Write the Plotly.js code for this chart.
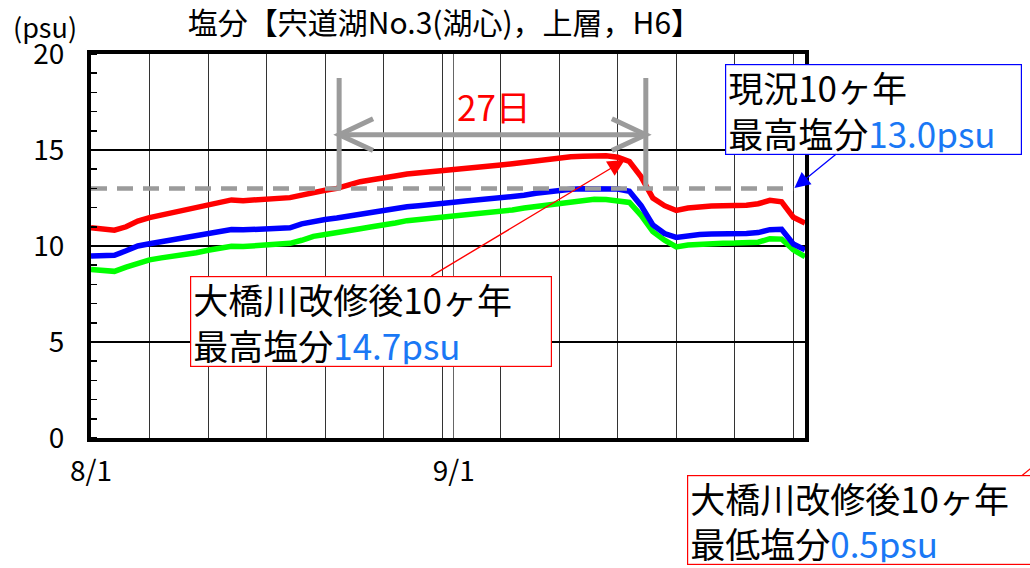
<!DOCTYPE html>
<html>
<head>
<meta charset="utf-8">
<script src="https://cdn.plot.ly/plotly-3.0.1.min.js"></script>
<style>html,body{margin:0;padding:0;background:#fff;}#chart{width:1030px;height:568px;}</style>
</head>
<body>
<div id="chart"></div>
<script>
// Days counted from 8/1 (0 = 8/1, 31 = 9/1)
const days = [0,1,2,3,4,5,6,7,8,9,10,11,12,13,14,15,16,17,18,19,20,21,22,23,24,25,26,27,28,29,30,31,32,33,34,35,36,37,38,39,40,41,42,43,44,45,46,47,48,49,50,51,52,53,54,55,56,57,58,59,60,61];
const tickDays = [0, 31];
const tickLabels = ['8/1', '9/1'];

// 大橋川改修後 (red)
const redSalinity = [10.95,10.92,10.82,11.0,11.3,11.48,11.62,11.73,11.86,12.0,12.15,12.3,12.4,12.36,12.4,12.45,12.48,12.52,12.65,12.8,12.9,13.0,13.2,13.35,13.45,13.52,13.65,13.75,13.8,13.85,13.92,13.97,14.05,14.1,14.15,14.22,14.28,14.35,14.45,14.55,14.62,14.65,14.68,14.7,14.7,14.62,14.4,13.6,12.5,12.1,11.85,11.98,12.05,12.08,12.1,12.1,12.12,12.2,12.38,12.3,11.5,11.2];
// 現況 (blue)
const blueSalinity = [9.48,9.5,9.52,9.75,10.0,10.12,10.22,10.32,10.42,10.52,10.62,10.78,10.86,10.84,10.86,10.9,10.93,10.95,11.15,11.3,11.38,11.46,11.56,11.68,11.76,11.84,11.94,12.04,12.1,12.14,12.2,12.28,12.34,12.4,12.44,12.5,12.55,12.64,12.75,12.84,12.9,12.95,12.98,13.0,13.0,12.97,12.85,12.1,11.1,10.65,10.45,10.55,10.6,10.62,10.62,10.63,10.65,10.7,10.85,10.87,10.1,9.8];
// green
const greenSalinity = [8.78,8.76,8.68,8.9,9.12,9.28,9.38,9.46,9.55,9.65,9.78,9.92,9.99,9.97,10.02,10.08,10.12,10.14,10.3,10.5,10.6,10.68,10.78,10.9,11.0,11.08,11.2,11.32,11.38,11.42,11.48,11.55,11.62,11.68,11.74,11.8,11.88,11.98,12.06,12.14,12.22,12.3,12.38,12.43,12.42,12.38,12.27,11.6,10.75,10.3,9.95,10.05,10.1,10.12,10.14,10.15,10.17,10.2,10.38,10.36,9.8,9.44];

// 現況10ヶ年最高塩分 reference level
const refLevelDays = [0, 60];
const refLevel = [13.0, 13.0];

// 27日 bracket
const bracketDays = [21.2, 47.4];
const bracketTop = 18.75;
const bracketArrowLevel = 15.8;

const FONT = "'Noto Sans CJK JP', 'Noto Sans CJK SC', sans-serif";
const GRAY = '#9b9b9b';
const NUMBLUE = '#1a78f5';

const traces = [
  {x: days, y: greenSalinity, mode: 'lines', line: {color: '#00ff00', width: 5.5}, hoverinfo: 'skip'},
  {x: days, y: blueSalinity, mode: 'lines', line: {color: '#0000ff', width: 5.5}, hoverinfo: 'skip'},
  {x: days, y: redSalinity, mode: 'lines', line: {color: '#ff0000', width: 5.5}, hoverinfo: 'skip'},
  {x: refLevelDays, y: refLevel, mode: 'lines', line: {color: GRAY, width: 4.5, dash: '16px,10px'}, hoverinfo: 'skip'}
];

const bx0 = bracketDays[0], bx1 = bracketDays[1];
const armX = 2.9, armY = 0.83;
const shapes = [
  {type: 'line', xref: 'x', yref: 'y', x0: bx0, x1: bx0, y0: refLevel[0], y1: bracketTop, line: {color: GRAY, width: 5}},
  {type: 'line', xref: 'x', yref: 'y', x0: bx1, x1: bx1, y0: refLevel[0], y1: bracketTop, line: {color: GRAY, width: 5}},
  {type: 'line', xref: 'x', yref: 'y', x0: bx0, x1: bx1, y0: bracketArrowLevel, y1: bracketArrowLevel, line: {color: GRAY, width: 5}},
  {type: 'path', xref: 'x', yref: 'y', path: `M${bx0+armX},${bracketArrowLevel+armY} L${bx0},${bracketArrowLevel} L${bx0+armX},${bracketArrowLevel-armY}`, line: {color: GRAY, width: 5}},
  {type: 'path', xref: 'x', yref: 'y', path: `M${bx1-armX},${bracketArrowLevel+armY} L${bx1},${bracketArrowLevel} L${bx1-armX},${bracketArrowLevel-armY}`, line: {color: GRAY, width: 5}},
  // small leader line of the lower-right box
  {type: 'line', xref: 'paper', yref: 'paper', x0: 1.2997, y0: -0.1042, x1: 1.3305, y1: -0.0573, line: {color: '#ff0000', width: 1.2}}
];

const boxFont = {family: FONT, size: 35, color: '#000'};
const annotations = [
  {xref: 'paper', yref: 'paper', x: -0.064, y: 1.072, xanchor: 'center', yanchor: 'middle', text: '(psu)', showarrow: false, font: {family: FONT, size: 27, color: '#000'}},
  {xref: 'x', yref: 'y', x: (bx0 + bx1) / 2 + 0.1, y: 17.3, text: '27日', showarrow: false, font: {family: FONT, size: 35, color: '#ff0000'}},
  // blue box
  {xref: 'paper', yref: 'paper', x: 0.888, y: 0.974, xanchor: 'left', yanchor: 'top', align: 'left', valign: 'middle', width: 291, height: 85,
   text: '現況10ヶ年<br>最高塩分<span style="color:' + NUMBLUE + '">13.0psu</span>', showarrow: false,
   bordercolor: '#0000ff', borderwidth: 1.2, borderpad: 2, bgcolor: '#ffffff', font: boxFont},
  {xref: 'x', yref: 'y', x: refLevelDays[1] + 0.1, y: refLevel[1] + 0.02, ax: 43, ay: -35, text: ' ', font: {size: 1},
   showarrow: true, arrowhead: 2, arrowsize: 2.4, arrowwidth: 1.3, arrowcolor: '#0000ff', standoff: 0},
  // red box (max)
  {xref: 'paper', yref: 'paper', x: 0.1387, y: 0.4219, xanchor: 'left', yanchor: 'top', align: 'left', valign: 'middle', width: 356, height: 85,
   text: '大橋川改修後10ヶ年<br>最高塩分<span style="color:' + NUMBLUE + '">14.7psu</span>', showarrow: false,
   bordercolor: '#ff0000', borderwidth: 1.2, borderpad: 2, bgcolor: '#ffffff', font: boxFont},
  {xref: 'x', yref: 'y', x: 45.6, y: 14.48, ax: -195, ay: 117, text: ' ', font: {size: 1},
   showarrow: true, arrowhead: 2, arrowsize: 2.4, arrowwidth: 1.4, arrowcolor: '#ff0000', standoff: 0},
  // red box (min), partly outside the picture
  {xref: 'paper', yref: 'paper', x: 0.8347, y: -0.096, xanchor: 'left', yanchor: 'top', align: 'left', valign: 'middle', width: 356, height: 84,
   text: '大橋川改修後10ヶ年<br>最低塩分<span style="color:' + NUMBLUE + '">0.5psu</span>', showarrow: false,
   bordercolor: '#ff0000', borderwidth: 1.2, borderpad: 2, bgcolor: '#ffffff', font: boxFont}
];

const layout = {
  width: 1030, height: 568,
  margin: {l: 91, r: 225, t: 54, b: 130, pad: 0},
  paper_bgcolor: '#ffffff', plot_bgcolor: '#ffffff',
  showlegend: false,
  font: {family: FONT, color: '#000'},
  title: {text: '塩分【宍道湖No.3(湖心)，上層，H6】', font: {family: FONT, size: 30, color: '#000'},
          xref: 'paper', x: 0.495, xanchor: 'center', yref: 'container', y: 0.958, yanchor: 'middle'},
  xaxis: {
    range: [0, 61], tickmode: 'array', tickvals: tickDays, ticktext: tickLabels,
    showgrid: true, gridcolor: '#666', gridwidth: 1.2, zeroline: false,
    showline: true, linecolor: '#000', linewidth: 4, mirror: true,
    ticks: '', tickfont: {family: FONT, size: 28, color: '#000'}, ticklabelstandoff: 5,
    minor: {tick0: 0, dtick: 5, showgrid: true, gridcolor: '#333', gridwidth: 1, ticks: ''},
    fixedrange: true
  },
  yaxis: {
    range: [0, 20], tickmode: 'array', tickvals: [0, 5, 10, 15, 20],
    showgrid: true, gridcolor: '#000', gridwidth: 2, zeroline: false,
    showline: true, linecolor: '#000', linewidth: 4, mirror: true,
    ticks: '', tickfont: {family: FONT, size: 28, color: '#000'}, ticklabelstandoff: 17,
    minor: {tick0: 0, dtick: 1, ticks: 'inside', ticklen: 6, tickwidth: 1.5, tickcolor: '#000', showgrid: false},
    fixedrange: true
  },
  shapes: shapes,
  annotations: annotations
};

Plotly.newPlot('chart', traces, layout, {staticPlot: true, displayModeBar: false});
</script>
</body>
</html>
